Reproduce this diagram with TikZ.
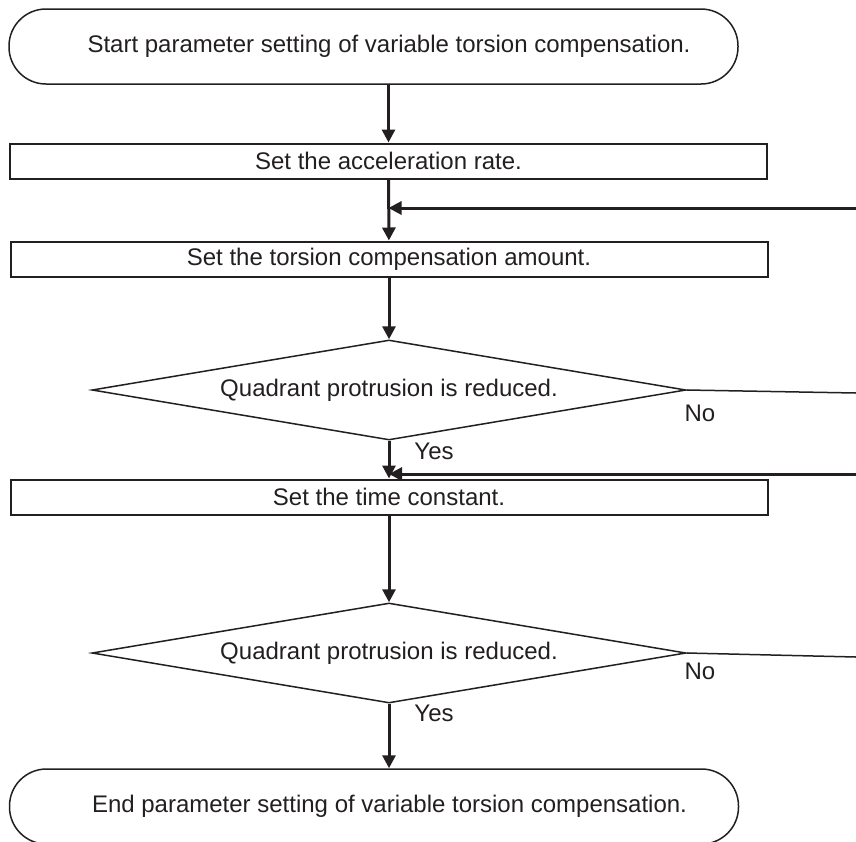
\documentclass[tikz,border=0pt]{standalone}
\usepackage{fontspec}
\setmainfont{Liberation Sans}
\usetikzlibrary{arrows.meta,shapes.geometric}
\definecolor{ink}{RGB}{35,31,32}

\begin{document}
\begin{tikzpicture}[
    x=1pt, y=-1pt,
    >={Triangle[length=13pt,width=13pt]},
    every node/.style={font=\fontsize{24pt}{28pt}\selectfont, text=ink},
    terminal/.style={draw=ink, line width=1.5pt, rectangle, rounded corners=37pt,
                     minimum width=729pt, minimum height=75pt, inner sep=0pt},
    process/.style={draw=ink, line width=2pt, rectangle,
                    minimum width=757pt, minimum height=35pt, inner sep=0pt},
    decision/.style={draw=ink, line width=1.5pt, diamond, shape aspect=5.94,
                     inner sep=0pt, minimum width=594pt, minimum height=100pt},
    flow/.style={->, draw=ink, line width=3pt},
    exit/.style={draw=ink, line width=1.5pt}
]
  \clip (0,0) rectangle (856,841);

  % nodes
  \node[terminal] (start) at (373.5,46.5)
    {\hspace*{31pt}Start parameter setting of variable torsion compensation.};
  \node[process] (acc) at (388.5,161) {Set the acceleration rate.};
  \node[process] (tors) at (389,259) {Set the torsion compensation amount.};
  \node[decision] (chk1) at (389,390) {Quadrant protrusion is reduced.};
  \node[process] (tconst) at (389,497) {Set the time constant.};
  \node[decision] (chk2) at (389,653) {Quadrant protrusion is reduced.};
  \node[terminal] (end) at (374,806.5)
    {\hspace*{31pt}End parameter setting of variable torsion compensation.};

  \node (no1)  at (700,413) {No};
  \node (yes1) at (434,451) {Yes};
  \node (no2)  at (700,671) {No};
  \node (yes2) at (434,713) {Yes};

  \coordinate (back1) at (856,208);
  \coordinate (out1)  at (856,393);
  \coordinate (back2) at (856,474);
  \coordinate (out2)  at (856,657);

  % edges
  \draw[flow] (start.south -| acc.north) -- (acc.north);
  \draw[flow] (acc) -- (tors);
  \draw[flow] (back1) -- (back1 -| acc.south);
  \draw[flow] (tors) -- (chk1.north);
  \draw[flow] (chk1.south) -- (tconst.north);
  \draw[exit] (chk1.east) -- (out1);
  \draw[flow] (back2) -- (back2 -| chk1.south);
  \draw[flow] (tconst) -- (chk2.north);
  \draw[flow] (chk2.south) -- (chk2.south |- end.north);
  \draw[exit] (chk2.east) -- (out2);
\end{tikzpicture}
\end{document}
